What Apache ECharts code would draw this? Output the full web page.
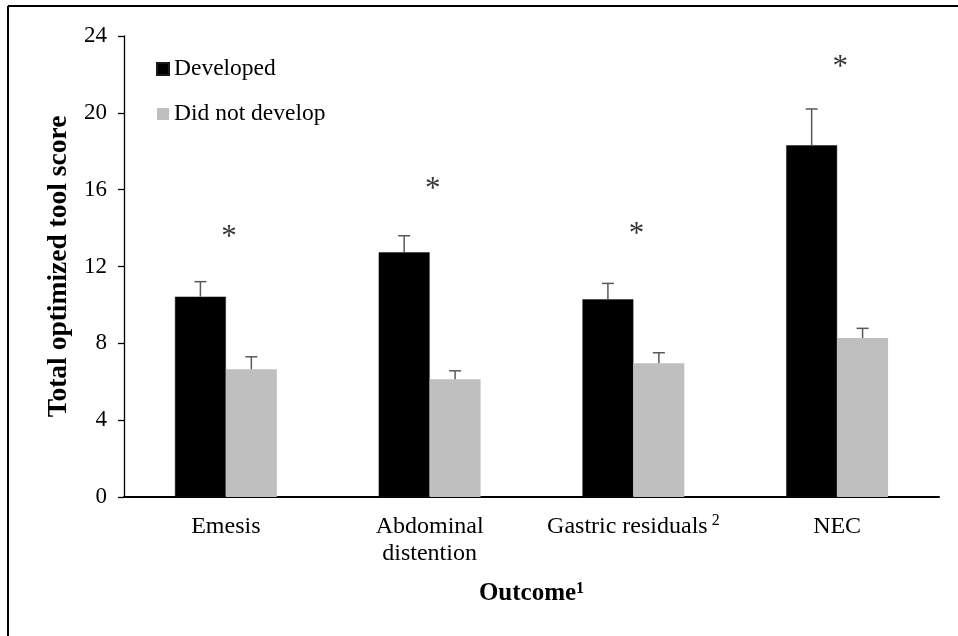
<!DOCTYPE html>
<html>
<head>
<meta charset="utf-8">
<script src="https://cdn.jsdelivr.net/npm/echarts@6/dist/echarts.min.js"></script>
<style>
  html, body { margin: 0; padding: 0; background: #ffffff; }
  #chart { width: 958px; height: 636px; }
</style>
</head>
<body>
<div id="chart"></div>
<script>
// Outcome categories and footnote marks shown as superscripts
const outcomes = ['Emesis', 'Abdominal\ndistention', 'Gastric residuals', 'NEC'];
const outcomeNotes = ['', '', '2', ''];

// Mean total optimized tool score and its error (upper whisker)
const developedMean = [10.43, 12.74, 10.29, 18.31];
const developedErr = [0.78, 0.86, 0.83, 1.89];
const notDevelopedMean = [6.65, 6.13, 6.96, 8.28];
const notDevelopedErr = [0.65, 0.44, 0.55, 0.50];

// Height at which each significance asterisk sits
const significanceAt = [13.76, 16.24, 13.90, 22.61];

// Value axis ticks
const yMin = 0, yMax = 24, yStep = 4;

const seriesNames = ['Developed', 'Did not develop'];
const FONT = '"Liberation Serif", "Times New Roman", serif';

function errorBars(name, means, errs, side) {
  return {
    type: 'custom',
    name: name + ' error',
    silent: true,
    z: 4,
    data: means.map((m, i) => [i, m, m + errs[i]]),
    encode: { x: 0, y: [1, 2] },
    renderItem(params, api) {
      const i = api.value(0);
      const band = api.size([1, 0])[0];
      const base = api.coord([i, api.value(1)]);
      const top = api.coord([i, api.value(2)]);
      const x = base[0] + side * band * 0.125;
      const style = { stroke: '#595959', lineWidth: 1.5 };
      return {
        type: 'group',
        children: [
          { type: 'line', shape: { x1: x, y1: base[1], x2: x, y2: top[1] }, style },
          { type: 'line', shape: { x1: x - 6, y1: top[1], x2: x + 6, y2: top[1] }, style }
        ]
      };
    }
  };
}

const chart = echarts.init(document.getElementById('chart'), null, { renderer: 'canvas' });

chart.setOption({
  backgroundColor: '#ffffff',
  animation: false,
  textStyle: { fontFamily: FONT, color: '#000' },
  grid: { left: 124, right: 19, top: 36, bottom: 139, containLabel: false },
  legend: {
    data: seriesNames,
    orient: 'vertical',
    left: 151,
    top: 52,
    itemWidth: 12,
    itemHeight: 12,
    itemGap: 21,
    icon: 'rect',
    textStyle: { fontFamily: FONT, fontSize: 23.5, color: '#000' },
    selectedMode: false
  },
  xAxis: {
    type: 'category',
    data: outcomes,
    axisLine: { lineStyle: { color: '#000', width: 2 } },
    axisTick: { show: false },
    axisLabel: {
      margin: 16,
      fontFamily: FONT,
      fontSize: 24,
      lineHeight: 27,
      color: '#000',
      interval: 0,
      formatter(value, idx) {
        const note = outcomeNotes[idx];
        return note ? value + '{sup|' + note + '}' : value;
      },
      rich: {
        sup: { fontFamily: FONT, fontSize: 16, verticalAlign: 'top', padding: [0, 0, 0, 4], color: '#000' }
      }
    },
    name: '{t|Outcome}{s|1}',
    nameLocation: 'middle',
    nameGap: 84,
    nameTextStyle: {
      rich: {
        t: { fontFamily: FONT, fontSize: 25, fontWeight: 'bold', color: '#000' },
        s: { fontFamily: FONT, fontSize: 16, fontWeight: 'bold', verticalAlign: 'top', color: '#000' }
      }
    }
  },
  yAxis: {
    type: 'value',
    min: yMin,
    max: yMax,
    interval: yStep,
    splitLine: { show: false },
    axisLine: { show: true, lineStyle: { color: '#000', width: 1.3 } },
    axisTick: { show: true, inside: false, length: 6, lineStyle: { color: '#000', width: 1.3 } },
    axisLabel: { margin: 17, fontFamily: FONT, fontSize: 23, color: '#000' },
    name: 'Total optimized tool score',
    nameLocation: 'middle',
    nameGap: 49,
    nameRotate: 90,
    nameTextStyle: { fontFamily: FONT, fontSize: 27.5, fontWeight: 'bold', color: '#000' }
  },
  series: [
    {
      name: seriesNames[0],
      type: 'bar',
      data: developedMean,
      barWidth: '25%',
      barGap: '0%',
      itemStyle: { color: '#000000', borderColor: '#1a1a1a', borderWidth: 0.5 },
      z: 2
    },
    {
      name: seriesNames[1],
      type: 'bar',
      data: notDevelopedMean,
      barWidth: '25%',
      barGap: '0%',
      itemStyle: { color: '#bfbfbf' },
      z: 2
    },
    errorBars(seriesNames[0], developedMean, developedErr, -1),
    errorBars(seriesNames[1], notDevelopedMean, notDevelopedErr, 1),
    {
      name: 'significance',
      type: 'scatter',
      silent: true,
      data: significanceAt.map((v, i) => [i, v]),
      symbolSize: 1,
      itemStyle: { color: 'rgba(0,0,0,0)' },
      label: {
        show: true,
        position: 'inside',
        formatter: '*',
        offset: [3, 5],
        fontFamily: FONT,
        fontSize: 31,
        color: '#000'
      },
      z: 5
    }
  ],
  graphic: [
    { type: 'line', shape: { x1: 8, y1: 6, x2: 958, y2: 6 }, style: { stroke: '#000', lineWidth: 2 } },
    { type: 'line', shape: { x1: 8, y1: 6, x2: 8, y2: 636 }, style: { stroke: '#000', lineWidth: 2 } }
  ]
});
</script>
</body>
</html>
